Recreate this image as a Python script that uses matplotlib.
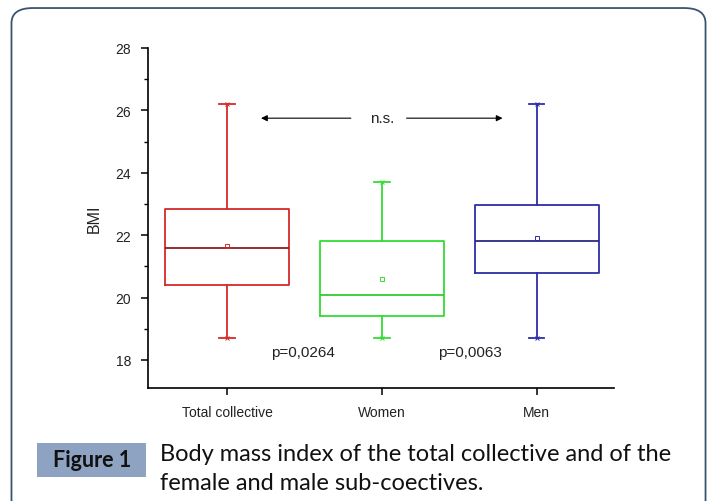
import matplotlib.pyplot as plt
from matplotlib.patches import FancyBboxPatch, Rectangle

# BMI summary per group
groups = ['Total collective', 'Women', 'Men']
q1 = [20.39, 19.40, 20.78]
median = [21.60, 20.08, 21.80]
q3 = [22.83, 21.80, 22.98]
mean = [21.65, 20.60, 21.90]
whisk_lo = [18.70, 18.70, 18.70]
whisk_hi = [26.20, 23.70, 26.20]
p_labels = ['p=0,0264', 'p=0,0063']

box_colors = ['#d42a2a', '#33dd33', '#2e2ea6']
median_colors = ['#8a1c28', '#33cc33', '#2a2a80']

fig = plt.figure(figsize=(7.17, 5.02), dpi=100)

# rounded frame around the whole figure
frame = FancyBboxPatch((0.016, -0.05), 0.968, 1.032, transform=fig.transFigure,
                       boxstyle='round,pad=0,rounding_size=0.03',
                       facecolor='none', edgecolor='#3a5470', linewidth=1.3)
fig.patches.append(frame)

ax = fig.add_axes([0.2064, 0.2251, 0.650, 0.6773])

stats = []
for i, name in enumerate(groups):
    stats.append(dict(label=name, q1=q1[i], med=median[i], q3=q3[i], mean=mean[i],
                      whislo=whisk_lo[i], whishi=whisk_hi[i], fliers=[]))

for i, st in enumerate(stats):
    c = box_colors[i]
    ax.bxp([st], positions=[i + 1], widths=0.8, showmeans=True, showfliers=False,
           boxprops=dict(color=c, linewidth=1.3),
           whiskerprops=dict(color=c, linewidth=1.3),
           capprops=dict(color=c, linewidth=1.3),
           medianprops=dict(color=median_colors[i], linewidth=1.3),
           meanprops=dict(marker='s', markersize=3, markerfacecolor='none',
                          markeredgecolor=c, markeredgewidth=0.7),
           capwidths=0.1)
    ax.plot([i + 1, i + 1], [whisk_lo[i], whisk_hi[i]], linestyle='none',
            marker='x', markersize=3.5, color=c, markeredgewidth=0.7)

ax.set_xlim(0.49, 3.5)
ax.set_ylim(17.1, 28)
ax.set_xticks([1, 2, 3])
ax.set_xticklabels(groups)
ax.set_yticks([18, 20, 22, 24, 26, 28])
ax.set_yticks([19, 21, 23, 25, 27], minor=True)
ax.spines['top'].set_visible(False)
ax.spines['right'].set_visible(False)
for s in ('left', 'bottom'):
    ax.spines[s].set_linewidth(1.2)
ax.tick_params(axis='both', which='major', length=5, width=1.1, labelsize=10,
               colors='black', labelcolor='#222222')
ax.tick_params(axis='y', which='minor', length=3, width=1.0)
ax.tick_params(axis='y', pad=7)
ax.tick_params(axis='x', pad=7)
ax.set_ylabel('BMI', fontsize=11.5, labelpad=10, color='#222222')
for lab in ax.get_xticklabels() + ax.get_yticklabels():
    lab.set_family('Liberation Sans')
ax.yaxis.label.set_family('Liberation Sans')

# n.s. comparison between the sub-groups
ax.text(2.0, 25.75, 'n.s.', ha='center', va='center', fontsize=11,
        family='Liberation Sans', color='#222222')
ax.annotate('', xy=(1.22, 25.75), xytext=(1.80, 25.75),
            arrowprops=dict(arrowstyle='-|>', color='black', lw=0.8,
                            mutation_scale=9, shrinkA=0, shrinkB=0))
ax.annotate('', xy=(2.78, 25.75), xytext=(2.16, 25.75),
            arrowprops=dict(arrowstyle='-|>', color='black', lw=0.8,
                            mutation_scale=9, shrinkA=0, shrinkB=0))

ax.text(1.49, 18.27, p_labels[0], ha='center', va='center', fontsize=11,
        family='Liberation Sans', color='#222222')
ax.text(2.57, 18.27, p_labels[1], ha='center', va='center', fontsize=11,
        family='Liberation Sans', color='#222222')

# caption
fig.patches.append(Rectangle((37 / 717, 1 - 478 / 502), 109 / 717, 34 / 502,
                             transform=fig.transFigure, facecolor='#8ea2c2',
                             edgecolor='none'))
fig.text(92 / 717, 1 - 461 / 502, 'Figure 1', ha='center', va='center',
         fontsize=15.5, fontweight='bold', family='Lato', color='#111111')
fig.text(160 / 717, 1 - 455 / 502, 'Body mass index of the total collective and of the',
         ha='left', va='center', fontsize=17, family='Lato', color='#111111')
fig.text(160 / 717, 1 - 484 / 502, 'female and male sub-coectives.',
         ha='left', va='center', fontsize=17, family='Lato', color='#111111')

fig.savefig('out.png', dpi=100)
